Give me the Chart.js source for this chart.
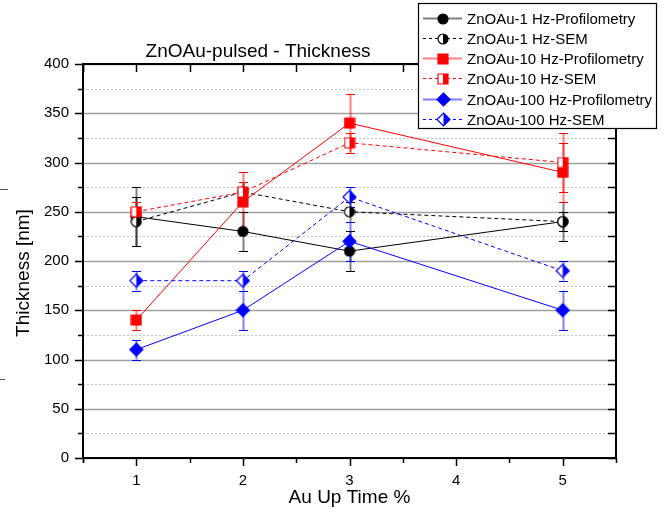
<!DOCTYPE html>
<html>
<head>
<meta charset="utf-8">
<script src="https://cdn.jsdelivr.net/npm/chart.js@4/dist/chart.umd.min.js"></script>
<style>
html,body{margin:0;padding:0;background:#fff;}
#wrap{position:relative;width:668px;height:514px;}
</style>
</head>
<body>
<div id="wrap"><canvas id="c" width="668" height="514"></canvas></div>
<script>
// ---------- data ----------
const chartTitle = 'ZnOAu-pulsed - Thickness';
const xAxisTitle = 'Au Up Time %';
const yAxisTitle = 'Thickness [nm]';
const xValues = [1, 2, 3, 5];
const xTickValues = [1, 2, 3, 4, 5];
const yTickValues = [0, 50, 100, 150, 200, 250, 300, 350, 400];
const seriesNames = [
  'ZnOAu-1 Hz-Profilometry', 'ZnOAu-1 Hz-SEM',
  'ZnOAu-10 Hz-Profilometry', 'ZnOAu-10 Hz-SEM',
  'ZnOAu-100 Hz-Profilometry', 'ZnOAu-100 Hz-SEM'
];
const prof1Hz = [245, 230, 210, 240];
const prof1HzErr = [30, 20, 20, 20];
const sem1Hz = [240, 270, 250, 240];
const sem1HzErr = [25, 10, 10, 10];
const prof10Hz = [140, 260, 340, 290];
const prof10HzErr = [10, 30, 30, 30];
const sem10Hz = [250, 270, 320, 300];
const sem10HzErr = [10, 10, 10, 30];
const prof100Hz = [110, 150, 220, 150];
const prof100HzErr = [10, 20, 20, 20];
const sem100Hz = [180, 180, 265, 190];
const sem100HzErr = [10, 10, 10, 10];

// ---------- styles ----------
const FONT = '"Liberation Sans", Arial, Helvetica, sans-serif';
const colors = ['#000000', '#000000', '#ff0000', '#ff0000', '#0000ff', '#0000ff'];
const fades = ['rgba(0,0,0,0.5)', 'rgba(0,0,0,0.5)', 'rgba(255,0,0,0.5)', 'rgba(255,0,0,0.5)', 'rgba(0,0,255,0.5)', 'rgba(0,0,255,0.5)'];
const shapes = ['circle', 'circle', 'square', 'square', 'diamond', 'diamond'];
const isSem = [false, true, false, true, false, true];

function makeMarker(shape, color, half) {
  const s = shape === 'diamond' ? 15 : 12;
  const cv = document.createElement('canvas');
  cv.width = s; cv.height = s;
  const g = cv.getContext('2d');
  const c = s / 2;
  function path() {
    g.beginPath();
    if (shape === 'circle') g.arc(c, c, 5, 0, Math.PI * 2);
    else if (shape === 'square') g.rect(c - 5, c - 5, 10, 10);
    else { g.moveTo(c, c - 6.5); g.lineTo(c + 6.5, c); g.lineTo(c, c + 6.5); g.lineTo(c - 6.5, c); g.closePath(); }
  }
  path();
  g.fillStyle = half ? '#ffffff' : color; g.fill();
  if (half) {
    g.save(); path(); g.clip();
    g.fillStyle = color; g.fillRect(c, 0, s, s);
    g.restore();
  }
  path(); g.lineWidth = 1.2; g.strokeStyle = color; g.stroke();
  return cv;
}
const markers = shapes.map((sh, i) => makeMarker(sh, colors[i], isSem[i]));

const seriesValues = [prof1Hz, sem1Hz, prof10Hz, sem10Hz, prof100Hz, sem100Hz];
const seriesErrors = [prof1HzErr, sem1HzErr, prof10HzErr, sem10HzErr, prof100HzErr, sem100HzErr];

const datasets = seriesValues.map((vals, i) => ({
  label: seriesNames[i],
  data: vals.map((v, j) => ({ x: xValues[j], y: v })),
  errors: seriesErrors[i],
  borderColor: colors[i],
  backgroundColor: colors[i],
  borderWidth: 1,
  borderDash: isSem[i] ? [4, 3] : [],
  pointStyle: markers[i],
  pointRadius: 6,
  pointHoverRadius: 6,
  tension: 0,
  fill: false,
  order: 6 - i
}));

// ---------- plugin: grid, error bars, frame, titles, legend ----------
const decor = {
  id: 'decor',
  beforeDatasetsDraw(chart) {
    const ctx = chart.ctx, a = chart.chartArea, ys = chart.scales.y, xs = chart.scales.x;
    ctx.save();
    ctx.strokeStyle = '#c4c4c4'; ctx.lineWidth = 1; ctx.setLineDash([2, 2]);
    for (let k = 0; k < yTickValues.length - 1; k++) {
      const v = (yTickValues[k] + yTickValues[k + 1]) / 2;
      const y = Math.round(ys.getPixelForValue(v)) + 0.5;
      ctx.beginPath(); ctx.moveTo(a.left, y); ctx.lineTo(a.right, y); ctx.stroke();
    }
    ctx.setLineDash([]); ctx.strokeStyle = '#a0a0a0'; ctx.lineWidth = 1.3;
    yTickValues.forEach(v => {
      const y = Math.round(ys.getPixelForValue(v)) + 0.5;
      ctx.beginPath(); ctx.moveTo(a.left, y); ctx.lineTo(a.right, y); ctx.stroke();
    });
    chart.data.datasets.forEach((ds, i) => {
      ds.data.forEach((p, j) => {
        const e = ds.errors[j];
        const x = Math.round(xs.getPixelForValue(p.x)) + 0.5;
        const yt = ys.getPixelForValue(p.y + e), yb = ys.getPixelForValue(p.y - e);
        ctx.strokeStyle = fades[i]; ctx.lineWidth = 2;
        ctx.beginPath(); ctx.moveTo(x, yt); ctx.lineTo(x, yb); ctx.stroke();
        ctx.strokeStyle = colors[i]; ctx.lineWidth = 1;
        [yt, yb].forEach(yy => {
          const y = Math.round(yy) + 0.5;
          ctx.beginPath(); ctx.moveTo(x - 4.5, y); ctx.lineTo(x + 4.5, y); ctx.stroke();
        });
      });
    });
    ctx.restore();
  },
  afterDraw(chart) {
    const ctx = chart.ctx, a = chart.chartArea, ys = chart.scales.y, xs = chart.scales.x;
    ctx.save();
    ctx.strokeStyle = '#000'; ctx.lineWidth = 1.5;
    for (let k = 0; k < yTickValues.length; k++) {
      const y = Math.round(ys.getPixelForValue(yTickValues[k])) + 0.5;
      ctx.beginPath(); ctx.moveTo(a.left - 8, y); ctx.lineTo(a.left, y); ctx.stroke();
      ctx.beginPath(); ctx.moveTo(a.right, y); ctx.lineTo(a.right - 8, y); ctx.stroke();
      if (k < yTickValues.length - 1) {
        const ym = Math.round(ys.getPixelForValue((yTickValues[k] + yTickValues[k + 1]) / 2)) + 0.5;
        ctx.beginPath(); ctx.moveTo(a.left - 5, ym); ctx.lineTo(a.left, ym); ctx.stroke();
        ctx.beginPath(); ctx.moveTo(a.right, ym); ctx.lineTo(a.right - 8, ym); ctx.stroke();
      }
    }
    const xAll = [xs.min];
    xTickValues.forEach(v => { xAll.push(v - 0.5); xAll.push(v); });
    xAll.push(xs.max);
    xAll.forEach(v => {
      const x = Math.round(xs.getPixelForValue(v)) + 0.5;
      const major = xTickValues.includes(v);
      ctx.beginPath(); ctx.moveTo(x, a.bottom); ctx.lineTo(x, a.bottom + (major ? 8 : 5)); ctx.stroke();
      ctx.beginPath(); ctx.moveTo(x, a.top); ctx.lineTo(x, a.top + 8); ctx.stroke();
    });
    ctx.lineWidth = 2;
    ctx.strokeRect(a.left, a.top, a.right - a.left, a.bottom - a.top);
    ctx.lineWidth = 1; ctx.strokeStyle = '#555';
    ctx.beginPath(); ctx.moveTo(0, 189.5); ctx.lineTo(8, 189.5); ctx.stroke();
    ctx.beginPath(); ctx.moveTo(0, 379.5); ctx.lineTo(5, 379.5); ctx.stroke();
    ctx.fillStyle = '#000';
    ctx.font = '19px ' + FONT;
    ctx.textAlign = 'center'; ctx.textBaseline = 'alphabetic';
    ctx.fillText(chartTitle, 258, 57);
    ctx.textBaseline = 'middle';
    ctx.fillText(xAxisTitle, (a.left + a.right) / 2, 498);
    ctx.save();
    ctx.translate(24, 273); ctx.rotate(-Math.PI / 2);
    ctx.fillText(yAxisTitle, 0, 0);
    ctx.restore();
    ctx.fillStyle = '#fff';
    ctx.fillRect(418.5, 3.5, 238, 125);
    ctx.strokeStyle = '#000'; ctx.lineWidth = 1.2;
    ctx.strokeRect(418.5, 3.5, 238, 125);
    ctx.font = '15px ' + FONT; ctx.textAlign = 'left'; ctx.textBaseline = 'middle';
    seriesNames.forEach((name, i) => {
      const y = Math.round(17.5 + i * 20.3) + 0.5;
      ctx.save();
      if (isSem[i]) { ctx.setLineDash([3, 3]); ctx.strokeStyle = colors[i]; ctx.lineWidth = 1; }
      else { ctx.strokeStyle = fades[i]; ctx.lineWidth = 2; }
      ctx.beginPath(); ctx.moveTo(423, y); ctx.lineTo(462, y); ctx.stroke();
      ctx.restore();
      const m = markers[i];
      ctx.drawImage(m, Math.round(443 - m.width / 2), Math.round(y - m.height / 2));
      ctx.fillStyle = '#000';
      ctx.fillText(name, 467, y + 1);
    });
    ctx.restore();
  }
};

new Chart(document.getElementById('c'), {
  type: 'line',
  data: { datasets },
  options: {
    responsive: false,
    animation: false,
    devicePixelRatio: 1,
    layout: { padding: { left: 0, right: 52, top: 64, bottom: 0 } },
    plugins: { legend: { display: false }, tooltip: { enabled: false }, title: { display: false } },
    scales: {
      x: {
        type: 'linear', min: 0.5, max: 5.5,
        afterBuildTicks: s => { s.ticks = xTickValues.map(v => ({ value: v })); },
        afterFit: s => { s.height = 56; },
        ticks: { font: { family: FONT, size: 15 }, color: '#000', padding: 6, autoSkip: false, maxRotation: 0,
                 callback: v => String(v) },
        grid: { display: false }, border: { display: false }
      },
      y: {
        min: 0, max: 400,
        afterBuildTicks: s => { s.ticks = yTickValues.map(v => ({ value: v })); },
        afterFit: s => { s.width = 83; },
        ticks: { font: { family: FONT, size: 15 }, color: '#000', padding: 6, callback: v => String(v) },
        grid: { display: false }, border: { display: false }
      }
    }
  },
  plugins: [decor]
});
</script>
</body>
</html>
